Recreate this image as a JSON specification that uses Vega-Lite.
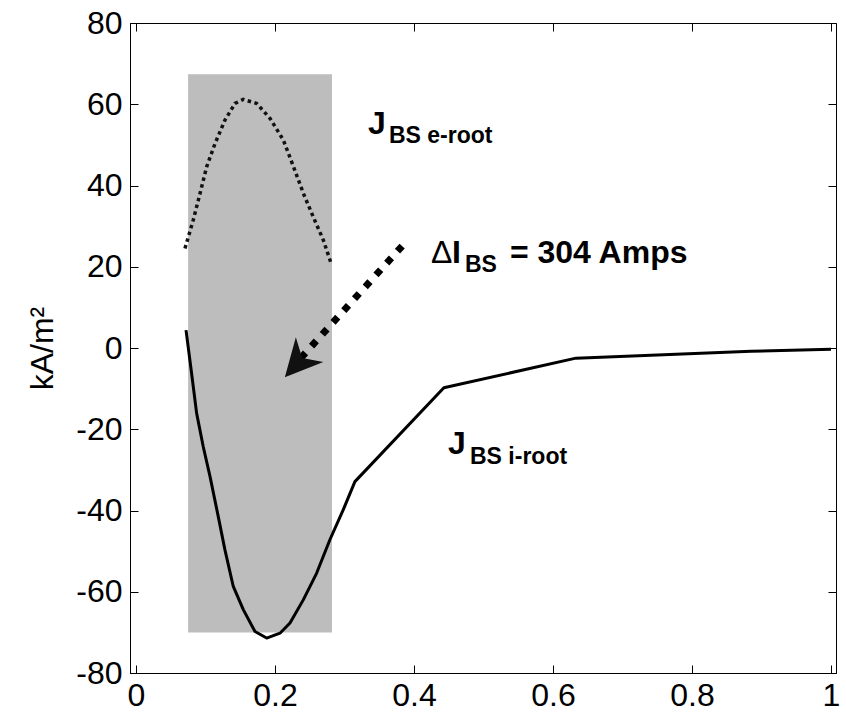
{
  "$schema": "https://vega.github.io/schema/vega-lite/v6.json",
  "width": 706,
  "height": 650,
  "autosize": "none",
  "padding": {"left": 130, "top": 23, "right": 10, "bottom": 40},
  "background": "white",
  "config": {
    "view": {"stroke": "#000", "strokeWidth": 1},
    "font": "Liberation Sans",
    "axis": {"grid": false, "domainColor": "#000", "tickColor": "#000", "labelColor": "#000", "labelFont": "Liberation Sans", "labelFontSize": 32, "titleFont": "Liberation Sans", "titleFontWeight": "normal", "titleColor": "#000", "tickSize": -8}
  },
  "datasets": {
    "shade": [{"x1": 0.075, "x2": 0.282, "y1": -70.0, "y2": 67.4}],
    "eroot": [
      {"x": 0.0705, "y": 24.5}, {"x": 0.0824, "y": 31.5}, {"x": 0.0921, "y": 38.0},
      {"x": 0.1017, "y": 44.6}, {"x": 0.1137, "y": 50.3}, {"x": 0.128, "y": 56.1},
      {"x": 0.1424, "y": 60.2}, {"x": 0.1544, "y": 61.2}, {"x": 0.1737, "y": 60.2},
      {"x": 0.193, "y": 56.5}, {"x": 0.212, "y": 51.2}, {"x": 0.2267, "y": 44.6},
      {"x": 0.241, "y": 38.0}, {"x": 0.255, "y": 32.3}, {"x": 0.2695, "y": 26.6},
      {"x": 0.2816, "y": 20.4}
    ],
    "iroot": [
      {"x": 0.072, "y": 4.4}, {"x": 0.08, "y": -6.2}, {"x": 0.0873, "y": -16.1},
      {"x": 0.0968, "y": -24.3}, {"x": 0.1065, "y": -31.6}, {"x": 0.1184, "y": -41.5},
      {"x": 0.128, "y": -49.7}, {"x": 0.14, "y": -58.7}, {"x": 0.1544, "y": -64.4},
      {"x": 0.1712, "y": -69.8}, {"x": 0.188, "y": -71.4}, {"x": 0.2072, "y": -70.2},
      {"x": 0.2216, "y": -67.7}, {"x": 0.2407, "y": -62.0}, {"x": 0.26, "y": -55.4},
      {"x": 0.279, "y": -47.2}, {"x": 0.2983, "y": -39.8}, {"x": 0.315, "y": -32.9},
      {"x": 0.443, "y": -9.8}, {"x": 0.633, "y": -2.5}, {"x": 0.885, "y": -0.8},
      {"x": 1.0, "y": -0.3}
    ],
    "arrow": [{"x": 0.383, "y": 25.1, "o": 0}, {"x": 0.237, "y": -2.5, "o": 1}],
    "head": [{"x": 0.232, "y": -3.8}],
    "delta": [{"x": 0.4245, "y": 20.9, "t": "Δ"}],
    "big": [
      {"x": 0.4547, "y": 20.9, "t": "I"},
      {"x": 0.538, "y": 20.9, "t": "= 304 Amps"},
      {"x": 0.3338, "y": 52.6, "t": "J"},
      {"x": 0.449, "y": -26.1, "t": "J"}
    ],
    "small": [
      {"x": 0.4734, "y": 18.8, "t": "BS"},
      {"x": 0.364, "y": 50.4, "t": "BS e-root"},
      {"x": 0.4806, "y": -28.5, "t": "BS i-root"}
    ]
  },
  "resolve": {"axis": {"x": "independent", "y": "independent"}},
  "layer": [
    {
      "data": {"name": "shade"},
      "mark": {"type": "rect", "color": "#bdbdbd"},
      "encoding": {
        "x": {"field": "x1", "type": "quantitative", "scale": {"domain": [-0.0086, 1.0072], "nice": false, "zero": false},
              "axis": {"orient": "bottom", "title": null, "values": [0, 0.2, 0.4, 0.6, 0.8, 1], "labelExpr": "datum.value + ''", "labelPadding": 15}},
        "x2": {"field": "x2"},
        "y": {"field": "y1", "type": "quantitative", "scale": {"domain": [-80, 80], "nice": false, "zero": false},
              "axis": {"orient": "left", "title": "kA/m²", "titleFontSize": 32, "titleX": -71, "titleY": 325, "titleAngle": -90, "titleBaseline": "bottom", "titleAlign": "center", "values": [-80, -60, -40, -20, 0, 20, 40, 60, 80], "labelExpr": "datum.value + ''", "labelPadding": 16}},
        "y2": {"field": "y2"}
      }
    },
    {
      "data": {"name": "eroot"},
      "mark": {"type": "line", "color": "#111", "strokeWidth": 3.5, "strokeDash": [3.5, 3.5], "strokeCap": "butt"},
      "encoding": {
        "x": {"field": "x", "type": "quantitative", "axis": null},
        "y": {"field": "y", "type": "quantitative", "axis": null}
      }
    },
    {
      "data": {"name": "iroot"},
      "mark": {"type": "line", "color": "#000", "strokeWidth": 3, "strokeJoin": "round"},
      "encoding": {
        "x": {"field": "x", "type": "quantitative",
              "axis": {"orient": "top", "title": null, "labels": false, "domain": false, "values": [0, 0.2, 0.4, 0.6, 0.8, 1]}},
        "y": {"field": "y", "type": "quantitative",
              "axis": {"orient": "right", "title": null, "labels": false, "domain": false, "values": [-80, -60, -40, -20, 0, 20, 40, 60, 80]}}
      }
    },
    {
      "data": {"name": "arrow"},
      "mark": {"type": "line", "color": "#000", "strokeWidth": 7, "strokeDash": [7, 9], "strokeCap": "butt"},
      "encoding": {
        "x": {"field": "x", "type": "quantitative", "axis": null},
        "y": {"field": "y", "type": "quantitative", "axis": null},
        "order": {"field": "o"}
      }
    },
    {
      "data": {"name": "head"},
      "mark": {"type": "point", "shape": "M0,-1L1,1L0,0.4L-1,1Z", "size": 1369, "angle": 222, "filled": true, "color": "#111", "opacity": 1},
      "encoding": {
        "x": {"field": "x", "type": "quantitative", "axis": null},
        "y": {"field": "y", "type": "quantitative", "axis": null}
      }
    },
    {
      "data": {"name": "delta"},
      "mark": {"type": "text", "align": "left", "baseline": "alphabetic", "fontSize": 32, "fontWeight": "normal", "font": "Liberation Sans", "color": "#000"},
      "encoding": {
        "x": {"field": "x", "type": "quantitative", "axis": null},
        "y": {"field": "y", "type": "quantitative", "axis": null},
        "text": {"field": "t"}
      }
    },
    {
      "data": {"name": "big"},
      "mark": {"type": "text", "align": "left", "baseline": "alphabetic", "fontSize": 32, "fontWeight": "bold", "font": "Liberation Sans", "color": "#000"},
      "encoding": {
        "x": {"field": "x", "type": "quantitative", "axis": null},
        "y": {"field": "y", "type": "quantitative", "axis": null},
        "text": {"field": "t"}
      }
    },
    {
      "data": {"name": "small"},
      "mark": {"type": "text", "align": "left", "baseline": "alphabetic", "fontSize": 23, "fontWeight": "bold", "font": "Liberation Sans", "color": "#000"},
      "encoding": {
        "x": {"field": "x", "type": "quantitative", "axis": null},
        "y": {"field": "y", "type": "quantitative", "axis": null},
        "text": {"field": "t"}
      }
    }
  ]
}
